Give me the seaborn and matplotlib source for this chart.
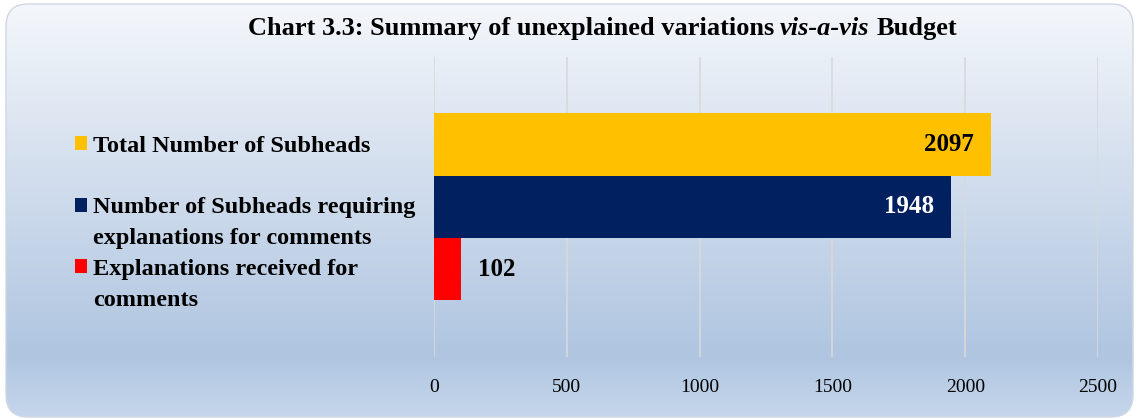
import numpy as np
import pandas as pd
import matplotlib
matplotlib.use("Agg")
import matplotlib.pyplot as plt
import seaborn as sns
from matplotlib.colors import LinearSegmentedColormap
from matplotlib.patches import FancyBboxPatch, Patch
from matplotlib.transforms import IdentityTransform

# data
labels = ["Total Number of Subheads",
          "Number of Subheads requiring explanations for comments",
          "Explanations received for comments"]
legend_lines = [["Total Number of Subheads", ""],
                ["Number of Subheads requiring", "explanations for comments"],
                ["Explanations received for", "comments"]]
values = [2097, 1948, 102]
colors = ["#FFC000", "#002060", "#FF0000"]
label_colors = ["black", "white", "black"]
xticks = [0, 500, 1000, 1500, 2000, 2500]

sns.set_style("white")
plt.rcParams["font.family"] = ["Liberation Serif", "DejaVu Serif"]
plt.rcParams["text.color"] = "black"
plt.rcParams["xtick.color"] = "black"

fig = plt.figure(figsize=(11.39, 4.19), dpi=100)
fig.patch.set_facecolor("white")

# gradient background inside a rounded box
frame = FancyBboxPatch((6, 2), 1127, 413, boxstyle="round,pad=0,rounding_size=22",
                       transform=IdentityTransform(), facecolor="none",
                       edgecolor="#D0D7E2", linewidth=1.0, zorder=3)
bg = fig.add_axes([0, 0, 1, 1], zorder=0)
bg.set_axis_off()
cmap = LinearSegmentedColormap.from_list(
    "bgrad", [(0, "#F5F8FC"), (0.3, "#DCE5F1"), (0.85, "#AFC5E0"), (1.0, "#C6D7EC")])
grad = np.linspace(0, 1, 256).reshape(-1, 1)
im = bg.imshow(grad, aspect="auto", cmap=cmap, extent=[0, 1, 0, 1], origin="upper")
bg.set_xlim(0, 1)
bg.set_ylim(0, 1)
im.set_clip_path(frame)
fig.patches.append(frame)

# main chart
ax = fig.add_axes([434 / 1139, 1 - 357 / 419, (1098 - 434) / 1139, 300 / 419], zorder=2)
ax.set_facecolor("none")
df = pd.DataFrame({"label": labels, "value": values})
sns.barplot(data=df, x="value", y="label", hue="label", palette=colors,
            width=1.0, legend=False, orient="h", ax=ax, saturation=1, linewidth=0)

ax.set_xlim(0, 2500)
ax.set_ylim(2.5 + 0.91, -0.5 - 0.9)
ax.set_xticks(xticks)
ax.set_xticklabels([str(t) for t in xticks], fontsize=14)
ax.set_yticks([])
ax.set_xlabel("")
ax.set_ylabel("")
ax.tick_params(axis="x", length=0, pad=16)
for s in ax.spines.values():
    s.set_visible(False)
ax.grid(axis="x", color="#D9D9D9", linewidth=1.2)
ax.set_axisbelow(True)

for i, (v, c) in enumerate(zip(values, label_colors)):
    if v > 500:
        ax.annotate(str(v), xy=(v, i), xytext=(-17, 0), textcoords="offset pixels",
                    ha="right", va="center", fontsize=18, fontweight="bold", color=c)
    else:
        ax.annotate(str(v), xy=(v, i), xytext=(17, 0), textcoords="offset pixels",
                    ha="left", va="center", fontsize=18, fontweight="bold", color=c)

# legend on the left: one row per text line, marker on the first line of each entry
handles, hlabels = [], []
for col, lines in zip(colors, legend_lines):
    handles.append(Patch(facecolor=col, edgecolor="none"))
    hlabels.append(lines[0])
    handles.append(Patch(facecolor="none", edgecolor="none"))
    hlabels.append(lines[1])
fig.legend(handles, hlabels, loc="upper left", bbox_to_anchor=(75 / 1139, 1 - 136 / 419),
           frameon=False, prop={"size": 17.5, "weight": "bold"}, borderpad=0,
           borderaxespad=0, handlelength=0.5, handleheight=0.5, handletextpad=0.25,
           labelspacing=0.4)

# title with italic part
ty = 1 - 40 / 419
t2 = fig.text(780 / 1139, ty, "vis-a-vis", ha="left", va="bottom",
              fontsize=19, fontweight="bold", fontstyle="italic")
plt.annotate("Chart 3.3: Summary of unexplained variations", xy=(0, 0), xycoords=t2,
             xytext=(-6, 0), textcoords="offset pixels",
             ha="right", va="bottom", fontsize=19, fontweight="bold",
             annotation_clip=False)
plt.annotate("Budget", xy=(1, 0), xycoords=t2, xytext=(7, 0), textcoords="offset pixels",
             ha="left", va="bottom", fontsize=19, fontweight="bold",
             annotation_clip=False)

fig.savefig("out.png", dpi=100)
